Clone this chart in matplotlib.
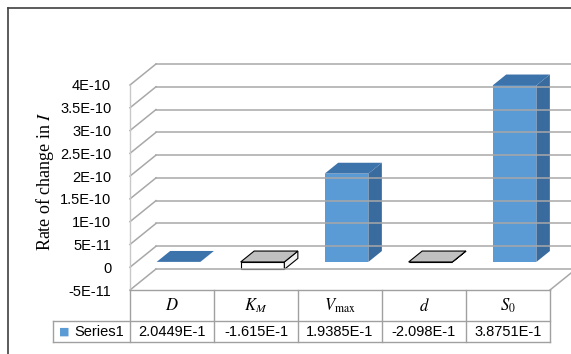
import matplotlib
matplotlib.use("Agg")
import matplotlib.pyplot as plt
import matplotlib.transforms as mtransforms
from matplotlib.patches import Polygon
from matplotlib.lines import Line2D

plt.rcParams['mathtext.fontset'] = 'stix'
plt.rcParams['font.family'] = 'Liberation Sans'

# data
categories = [r'$D$', r'$K_M$', r'$V_{\max}$', r'$d$', r'$S_0$']
table_values = ['2.0449E-1', '-1.615E-1', '1.9385E-1', '-2.098E-1', '3.8751E-1']
bar_values = [2.0e-13, -1.615e-11, 1.9385e-10, -2.0e-13, 3.8751e-10]
series_name = 'Series1'
yticks = [-5e-11, 0, 5e-11, 1e-10, 1.5e-10, 2e-10, 2.5e-10, 3e-10, 3.5e-10, 4e-10]
ytick_labels = ['-5E-11', '0', '5E-11', '1E-10', '1.5E-10', '2E-10',
                '2.5E-10', '3E-10', '3.5E-10', '4E-10']

W, H = 571, 354
fig = plt.figure(figsize=(W / 100, H / 100), dpi=100)
# front plane of the 3d box
left, right, top, bottom = 130, 550, 85, 290
ax = fig.add_axes([left / W, 1 - bottom / H, (right - left) / W, (bottom - top) / H])
ax.set_xlim(-0.5, 4.5)
ax.set_ylim(-5e-11, 4e-10)
ax.patch.set_visible(False)
for s in ax.spines.values():
    s.set_visible(False)
ax.set_xticks([])
ax.set_yticks(yticks, labels=ytick_labels)
ax.tick_params(axis='y', length=0, pad=13.5, labelsize=10.5)

# depth offset (full depth) in data units
px_x = (right - left) / 5.0
DX = 26 / px_x
DY = 21 / ((bottom - top) / 4.5e-10)


def P(x, y, f):
    return (x + f * DX, y + f * DY)


grid_c = '#a8a8a8'
ymin = -5e-11
for v in yticks:
    a, b = P(-0.5, v, 1), P(4.6, v, 1)
    ax.plot([a[0], b[0]], [a[1], b[1]], color=grid_c, lw=1.1, clip_on=False)
    a, b = P(-0.5, v, 0), P(-0.5, v, 1)
    ax.plot([a[0], b[0]], [a[1], b[1]], color=grid_c, lw=1.1, clip_on=False)
ax.plot([-0.5, -0.5], [ymin, 4e-10], color='#c8c8c8', lw=1.0, clip_on=False)
a, b = P(4.5, ymin, 0), P(4.5, ymin, 1)
ax.plot([a[0], b[0]], [a[1], b[1]], color=grid_c, lw=1.1, clip_on=False)

# columns
bw = 0.52
f0, f1 = 0.25, 0.77
for i, v in enumerate(bar_values):
    x0, x1 = i - bw / 2, i + bw / 2
    lo, hi = min(0, v), max(0, v)
    if v >= 0:
        cf, cs, ct, ec, lw = '#5b9bd5', '#3a6b9e', '#3d73ab', 'none', 0
    else:
        cf, cs, ct, ec, lw = 'white', '#f0f0f0', '#c0c0c0', 'black', 0.8
    front = [P(x0, lo, f0), P(x1, lo, f0), P(x1, hi, f0), P(x0, hi, f0)]
    side = [P(x1, lo, f0), P(x1, lo, f1), P(x1, hi, f1), P(x1, hi, f0)]
    topf = [P(x0, hi, f0), P(x1, hi, f0), P(x1, hi, f1), P(x0, hi, f1)]
    for pts, c in [(front, cf), (side, cs), (topf, ct)]:
        ax.add_patch(Polygon(pts, closed=True, facecolor=c, edgecolor=ec,
                             lw=lw, clip_on=False, joinstyle='miter'))

# data table under the chart: x in data units, y in axes units
tr = mtransforms.blended_transform_factory(ax.transData, ax.transAxes)
hpx = bottom - top
r0, r1, r2 = 0, -31 / hpx, -52 / hpx
xl = -0.5 - 77 / px_x
tab_c = '#a0a0a0'
kw = dict(transform=tr, color=tab_c, lw=1.0, clip_on=False)
ax.plot([-0.5, 4.5], [r0, r0], **kw)
ax.plot([xl, 4.5], [r1, r1], **kw)
ax.plot([xl, 4.5], [r2, r2], **kw)
ax.plot([xl, xl], [r1, r2], **kw)
for k in range(len(categories) + 1):
    ax.plot([k - 0.5, k - 0.5], [r0, r2], **kw)
for i, (lab, val) in enumerate(zip(categories, table_values)):
    ax.text(i, (r0 + r1) / 2, lab, transform=tr, ha='center', va='center', fontsize=12)
    ax.text(i, (r1 + r2) / 2, val, transform=tr, ha='center', va='center', fontsize=10.5)
ax.text(-0.5 - 6 / px_x, (r1 + r2) / 2, series_name, transform=tr,
        ha='right', va='center', fontsize=10.5)
ax.text(xl + 11 / px_x, (r1 + r2) / 2, '\u25a0', transform=tr, color='#5b9bd5',
        fontsize=8, ha='center', va='center', family='DejaVu Sans')

fig.text(45 / W, 1 - 181 / H, r'Rate of change in $I$', rotation=90,
         ha='center', va='center', fontsize=13, family='Liberation Serif')

# outer frame
fig.add_artist(Line2D([8 / W, 8 / W], [0, 1 - 8 / H], color='#404040', lw=1.2))
fig.add_artist(Line2D([8 / W, 1], [1 - 8 / H, 1 - 8 / H], color='#404040', lw=1.2))

fig.savefig('out.png', dpi=100)
